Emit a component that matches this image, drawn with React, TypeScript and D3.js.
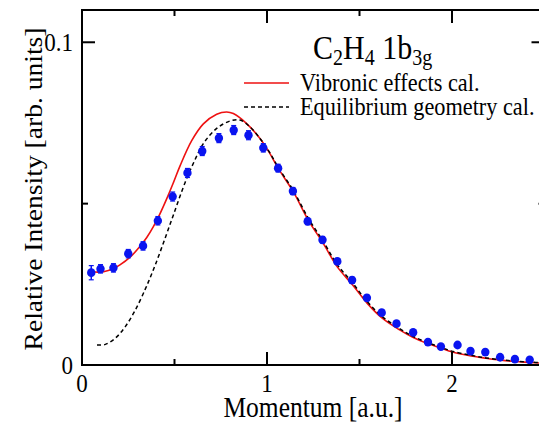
import React from "react";
import * as d3 from "d3";

// Experimental data (momentum [a.u.], relative intensity, error)
const expMomentum = [0.05, 0.10, 0.17, 0.25, 0.33, 0.41, 0.49, 0.57, 0.65, 0.74, 0.82, 0.90, 0.98, 1.06, 1.14, 1.22, 1.30, 1.38, 1.46, 1.54, 1.62, 1.70, 1.79, 1.87, 1.94, 2.03, 2.10, 2.18, 2.26, 2.34, 2.42];
const expIntensity = [0.0286, 0.0298, 0.0301, 0.0345, 0.0369, 0.0447, 0.0522, 0.0595, 0.0663, 0.0703, 0.0728, 0.0712, 0.0673, 0.0610, 0.0539, 0.0445, 0.0388, 0.0321, 0.0263, 0.0208, 0.0162, 0.0128, 0.0101, 0.0071, 0.0057, 0.0062, 0.0043, 0.0040, 0.0024, 0.0018, 0.0016];
const expError = [0.0022, 0.0013, 0.0013, 0.0013, 0.0013, 0.0013, 0.0014, 0.0014, 0.0014, 0.0014, 0.0014, 0.0014, 0.0013, 0.0012, 0.0011, 0.0010, 0.0010, 0.0009, 0.0009, 0.0008, 0.0008, 0.0007, 0.0007, 0.0006, 0.0006, 0.0006, 0.0005, 0.0005, 0.0005, 0.0005, 0.0005];

// Vibronic effects calculation
const vibMomentum = [0.07, 0.117, 0.171, 0.205, 0.26, 0.314, 0.35, 0.385, 0.42, 0.46, 0.494, 0.53, 0.593, 0.656, 0.728, 0.782, 0.818, 0.89, 0.962, 1.016, 1.061, 1.142, 1.223, 1.304, 1.38, 1.463, 1.542, 1.623, 1.719, 1.788, 1.865, 1.944, 1.998, 2.103, 2.184, 2.265, 2.342, 2.422, 2.5];
const vibIntensity = [0.0288, 0.0289, 0.0299, 0.0310, 0.0334, 0.0368, 0.0395, 0.0428, 0.0467, 0.0518, 0.0565, 0.0617, 0.0695, 0.0747, 0.0777, 0.0784, 0.0779, 0.0748, 0.0702, 0.0655, 0.0609, 0.0537, 0.0449, 0.0377, 0.0304, 0.0248, 0.0191, 0.0145, 0.0108, 0.0086, 0.0067, 0.0052, 0.0041, 0.0028, 0.0021, 0.0015, 0.0011, 0.0008, 0.0005];

// Equilibrium geometry calculation
const eqMomentum = [0.081, 0.126, 0.18, 0.234, 0.288, 0.342, 0.368, 0.396, 0.44, 0.494, 0.557, 0.602, 0.656, 0.728, 0.8, 0.854, 0.908, 0.962, 1.016, 1.061, 1.142, 1.223, 1.304, 1.38, 1.463, 1.542, 1.623, 1.719, 1.788, 1.865, 1.944, 1.998, 2.103, 2.184, 2.265, 2.342, 2.422, 2.5];
const eqIntensity = [0.0062, 0.0064, 0.0083, 0.0119, 0.0170, 0.0235, 0.0270, 0.0310, 0.0378, 0.0465, 0.0565, 0.0625, 0.0686, 0.0733, 0.0756, 0.0759, 0.0738, 0.0702, 0.0657, 0.0612, 0.0541, 0.0455, 0.0383, 0.0311, 0.0254, 0.0196, 0.0150, 0.0112, 0.0089, 0.0070, 0.0054, 0.0043, 0.0030, 0.0022, 0.0016, 0.0012, 0.0009, 0.0006];

const xMajorTicks = [0, 1, 2];
const xMinorTicks = [0.5, 1.5, 2.5];
const yMajorTicks = [0, 0.1];
const yMinorTicks = [0.05];
const yTickLabels = ["0", "0.1"];

const legendLabels = ["Vibronic effects cal.", "Equilibrium geometry cal."];

const W = 539;
const H = 423;
const FONT = "'Liberation Serif', 'Times New Roman', serif";
const SY = 1.12;

export default function App() {
  const x = d3.scaleLinear().domain([0, 2.5]).range([82, 544.5]);
  const y = d3.scaleLinear().domain([0, 0.11]).range([365, 10]);

  const line = d3
    .line<[number, number]>()
    .x((d) => x(d[0]))
    .y((d) => y(d[1]))
    .curve(d3.curveCatmullRom.alpha(0.5));

  const vib = line(vibMomentum.map((m, i) => [m, vibIntensity[i]] as [number, number])) || "";
  const eq = line(eqMomentum.map((m, i) => [m, eqIntensity[i]] as [number, number])) || "";

  const [x0, x1] = x.range();
  const [y0, y1] = y.range();
  const MAJ = 13;
  const MIN = 6;

  const T = (tx: number, ty: number) => `translate(${tx},${ty}) scale(1,${SY})`;

  return (
    <svg
      width={W}
      height={H}
      style={{ position: "absolute", left: 0, top: 0, background: "#fff" }}
      fontFamily={FONT}
    >
      <rect x={0} y={0} width={W} height={H} fill="#fff" />

      {/* curves */}
      <path d={vib} fill="none" stroke="#ee1111" strokeWidth={1.6} />
      <path d={eq} fill="none" stroke="#000" strokeWidth={1.5} strokeDasharray="4,3" />

      {/* experimental points */}
      {expMomentum.map((m, i) => {
        const cx = x(m);
        const cy = y(expIntensity[i]);
        const top = y(expIntensity[i] + expError[i]);
        const bot = y(expIntensity[i] - expError[i]);
        return (
          <g key={i}>
            <line x1={cx} x2={cx} y1={top} y2={bot} stroke="#0a14f0" strokeWidth={1.5} />
            <line x1={cx - 2.5} x2={cx + 2.5} y1={top} y2={top} stroke="#0a14f0" strokeWidth={1.2} />
            <line x1={cx - 2.5} x2={cx + 2.5} y1={bot} y2={bot} stroke="#0a14f0" strokeWidth={1.2} />
            <ellipse cx={cx} cy={cy} rx={4.2} ry={4.4} fill="#0a14f0" />
          </g>
        );
      })}

      {/* frame */}
      <rect x={x0} y={y1} width={x1 - x0} height={y0 - y1} fill="none" stroke="#000" strokeWidth={2} />

      {/* x ticks */}
      {xMajorTicks.map((t) => (
        <g key={"xM" + t}>
          <line x1={x(t)} x2={x(t)} y1={y0} y2={y0 - MAJ} stroke="#000" strokeWidth={2} />
          <line x1={x(t)} x2={x(t)} y1={y1} y2={y1 + MAJ} stroke="#000" strokeWidth={2} />
          <text transform={T(x(t), 392)} textAnchor="middle" fontSize={23}>
            {String(t)}
          </text>
        </g>
      ))}
      {xMinorTicks.map((t) => (
        <g key={"xm" + t}>
          <line x1={x(t)} x2={x(t)} y1={y0} y2={y0 - MIN} stroke="#000" strokeWidth={2} />
          <line x1={x(t)} x2={x(t)} y1={y1} y2={y1 + MIN} stroke="#000" strokeWidth={2} />
        </g>
      ))}

      {/* y ticks */}
      {yMajorTicks.map((t, i) => (
        <g key={"yM" + t}>
          <line x1={x0} x2={x0 + MAJ} y1={y(t)} y2={y(t)} stroke="#000" strokeWidth={2} />
          <line x1={x1} x2={x1 - MAJ} y1={y(t)} y2={y(t)} stroke="#000" strokeWidth={2} />
          <text transform={T(73, y(t) + 8.5)} textAnchor="end" fontSize={23}>
            {yTickLabels[i]}
          </text>
        </g>
      ))}
      {yMinorTicks.map((t) => (
        <g key={"ym" + t}>
          <line x1={x0} x2={x0 + MIN} y1={y(t)} y2={y(t)} stroke="#000" strokeWidth={2} />
          <line x1={x1} x2={x1 - MIN} y1={y(t)} y2={y(t)} stroke="#000" strokeWidth={2} />
        </g>
      ))}

      {/* axis titles */}
      <text transform={T(313, 417)} textAnchor="middle" fontSize={25.5}>
        Momentum [a.u.]
      </text>
      <text
        transform={`translate(42,189) scale(1,1.06) rotate(-90)`}
        textAnchor="middle"
        fontSize={26}
      >
        Relative Intensity [arb. units]
      </text>

      {/* title */}
      <text transform={T(313, 59)} fontSize={30}>
        <tspan>C</tspan>
        <tspan fontSize={20} dy={5}>2</tspan>
        <tspan dy={-5}>H</tspan>
        <tspan fontSize={20} dy={5}>4</tspan>
        <tspan dy={-5}> 1b</tspan>
        <tspan fontSize={20} dy={5}>3g</tspan>
      </text>

      {/* legend */}
      <line x1={244} x2={289} y1={83} y2={83} stroke="#ee1111" strokeWidth={1.6} />
      <line x1={244} x2={289} y1={107} y2={107} stroke="#000" strokeWidth={1.5} strokeDasharray="4,3" />
      <text transform={T(300, 91)} fontSize={22.3}>
        {legendLabels[0]}
      </text>
      <text transform={T(300, 115)} fontSize={22.3}>
        {legendLabels[1]}
      </text>
    </svg>
  );
}
